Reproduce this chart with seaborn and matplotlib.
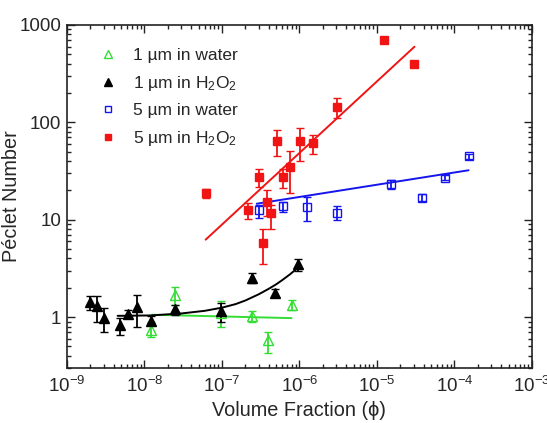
import numpy as np
import pandas as pd
import matplotlib
matplotlib.use('Agg')
import matplotlib.pyplot as plt
import matplotlib.ticker as mticker
import seaborn as sns

# 1 um in water (open green triangles)
g_x = [1.2e-8, 2.45e-8, 9.8e-8, 2.43e-7, 3.9e-7, 7.9e-7]
g_y = [0.74, 1.68, 1.1, 1.03, 0.58, 1.32]
g_lo = [0.62, 1.33, 0.80, 0.88, 0.43, 1.17]
g_hi = [0.88, 2.02, 1.46, 1.16, 0.70, 1.49]

# 1 um in H2O2 (filled black triangles)
k_x = [1.98e-9, 2.42e-9, 3.03e-9, 4.85e-9, 6.07e-9, 8.1e-9, 1.2e-8, 2.45e-8,
       9.6e-8, 2.42e-7, 4.85e-7, 9.7e-7]
k_y = [1.42, 1.30, 0.99, 0.83, 1.08, 1.27, 0.91, 1.20, 1.15, 2.55, 1.78, 3.50]
k_lo = [1.18, 0.89, 0.71, 0.66, 0.97, 0.79, 0.84, 1.05, 0.90, 2.25, 1.60, 3.00]
k_hi = [1.64, 1.65, 1.23, 0.99, 1.17, 1.67, 1.03, 1.34, 1.40, 2.82, 1.93, 3.95]

# 5 um in water (open blue squares)
b_x = [3.03e-7, 6.12e-7, 1.24e-6, 3.04e-6, 1.51e-5, 3.76e-5, 7.5e-5, 1.52e-4]
b_y = [12.7, 13.9, 13.5, 11.8, 23.5, 16.9, 27.1, 45.3]
b_lo = [10.3, 12.0, 9.6, 9.9, 20.9, 15.5, 25.4, 42.5]
b_hi = [14.1, 15.2, 17.1, 13.9, 25.4, 18.5, 28.6, 47.7]

# 5 um in H2O2 (filled red squares)
r_x = [6.15e-8, 2.17e-7, 3.03e-7, 3.43e-7, 3.85e-7, 4.35e-7, 5.08e-7, 6.1e-7,
       7.5e-7, 1.01e-6, 1.49e-6, 3.03e-6, 1.22e-5, 3.04e-5]
r_y = [19.0, 12.5, 27.5, 5.75, 15.1, 11.8, 64, 27.3, 35, 64, 61, 145, 705, 394]
r_lo = [16.9, 10.1, 21.8, 3.47, 11.0, 8.1, 45, 21.3, 18.8, 40.2, 47, 112, 655, 367]
r_hi = [20.9, 15.0, 33.4, 8.1, 20.1, 14.0, 83, 33.4, 51, 86.5, 74, 179, 758, 420]

# fit curves
g_fit_x = [1.25e-8, 7.9e-7]
g_fit_y = [1.057, 0.976]
k_fit_x = [4.5e-9, 1.2e-8, 3e-8, 6e-8, 1e-7, 1.5e-7, 2e-7, 3e-7, 4e-7, 5e-7,
           6e-7, 7.5e-7, 9.5e-7]
k_fit_y = [1.03, 1.04, 1.09, 1.16, 1.25, 1.36, 1.48, 1.72, 1.95, 2.17,
           2.40, 2.74, 3.20]
b_fit_x = [2.81e-7, 1.52e-4]
b_fit_y = [14.6, 32.2]
r_fit_x = [6.15e-8, 3.05e-5]
r_fit_y = [6.24, 598]

x_ticks = [1e-9, 1e-8, 1e-7, 1e-6, 1e-5, 1e-4, 1e-3]
y_ticks = [1, 10, 100, 1000]

labels = ['1 \u00b5m in water', '1 \u00b5m in H$_2$O$_2$',
          '5 \u00b5m in water', '5 \u00b5m in H$_2$O$_2$']

GREEN = '#33dd33'
BLACK = '#000000'
BLUE = '#1515ee'
RED = '#f01414'

sns.set_theme(style='ticks')
plt.rcParams['font.family'] = ['Liberation Sans', 'DejaVu Sans']
plt.rcParams['mathtext.default'] = 'regular'

fig = plt.figure(figsize=(5.47, 4.23), dpi=100)
ax = fig.add_axes([0.1225, 0.130, 0.850, 0.811])
ax.set_xscale('log')
ax.set_yscale('log')

# fit lines
fits = [(g_fit_x, g_fit_y, GREEN), (k_fit_x, k_fit_y, BLACK),
        (b_fit_x, b_fit_y, BLUE), (r_fit_x, r_fit_y, RED)]
for fx, fy, col in fits:
    df = pd.DataFrame({'x': fx, 'y': fy})
    sns.lineplot(data=df, x='x', y='y', ax=ax, color=col, lw=1.4,
                 estimator=None, sort=False, legend=False)

series = [
    (g_x, g_y, g_lo, g_hi, GREEN, '^', 'none', 6.5),
    (k_x, k_y, k_lo, k_hi, BLACK, '^', BLACK, 6.5),
    (b_x, b_y, b_lo, b_hi, BLUE, 's', 'none', 5.5),
    (r_x, r_y, r_lo, r_hi, RED, 's', RED, 5.5),
]
handles = []
for (x, y, lo, hi, col, mk, fc, ms), lab in zip(series, labels):
    y = np.array(y)
    yerr = [y - np.array(lo), np.array(hi) - y]
    c = ax.errorbar(x, y, yerr=yerr, fmt=mk, color=col, mfc=fc, mec=col,
                    ms=ms, mew=1.0, elinewidth=1.3, capsize=3, capthick=1.3,
                    zorder=3)
    handles.append(c[0])

ax.set_xlim(1e-9, 1e-3)
ax.set_ylim(0.3, 1000)
ax.xaxis.set_major_locator(mticker.FixedLocator(x_ticks))
ax.xaxis.set_major_formatter(mticker.LogFormatterSciNotation())
ax.xaxis.set_minor_locator(mticker.LogLocator(base=10, subs=np.arange(2, 10), numticks=20))
ax.xaxis.set_minor_formatter(mticker.NullFormatter())
ax.yaxis.set_major_locator(mticker.FixedLocator(y_ticks))
ax.yaxis.set_major_formatter(mticker.FormatStrFormatter('%g'))
ax.yaxis.set_minor_locator(mticker.LogLocator(base=10, subs=np.arange(2, 10), numticks=20))
ax.yaxis.set_minor_formatter(mticker.NullFormatter())

ax.tick_params(which='both', direction='in', top=True, right=True,
               width=1.0, color='#222222', labelsize=13.5)
ax.tick_params(axis='x', pad=6)
ax.tick_params(axis='y', pad=4)
ax.tick_params(which='major', length=6)
ax.tick_params(which='minor', length=3)
for sp in ax.spines.values():
    sp.set_linewidth(1.2)
    sp.set_color('#222222')

ax.set_xlabel('Volume Fraction (\u03d5)', fontsize=14.3)
ax.xaxis.set_label_coords(0.5, -0.097)
ax.set_ylabel('P\u00e9clet Number', fontsize=14.3)
ax.yaxis.set_label_coords(-0.099, 0.5)

leg = ax.legend(handles, labels, loc='upper left', frameon=False, fontsize=12.5,
                markerscale=0.8, handlelength=1.0, handletextpad=0.9,
                labelspacing=0.6, borderaxespad=0.0, bbox_to_anchor=(0.055, 0.953))

fig.savefig('out.png', dpi=100)
